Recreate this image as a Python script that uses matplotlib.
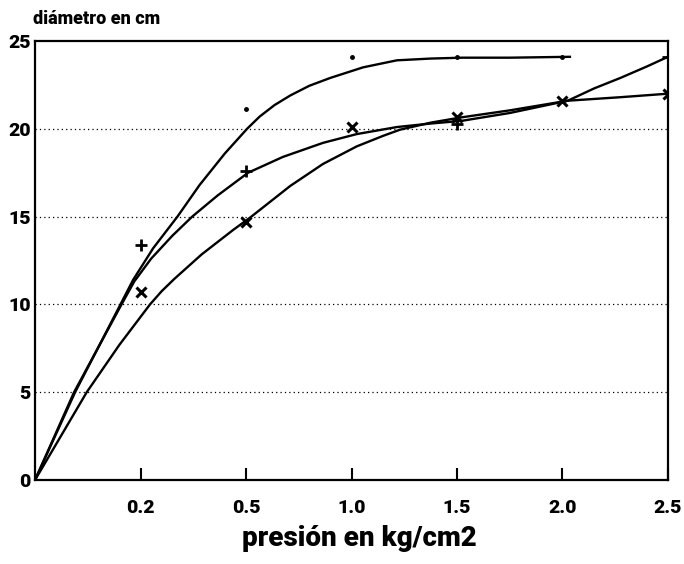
import numpy as np
from matplotlib import pyplot as plt

# categorical pressure axis (equally spaced labels)
presion = ['0', '0.2', '0.5', '1.0', '1.5', '2.0', '2.5']

# measured points (index on the pressure axis, diameter in cm)
pos_punto = [2, 3, 4, 5]
diam_punto = [21.1, 24.1, 24.1, 24.1]
pos_mas = [1, 2, 4, 6]
diam_mas = [13.4, 17.6, 20.3, 24.1]
pos_equis = [1, 2, 3, 4, 5, 6]
diam_equis = [10.7, 14.7, 20.1, 20.7, 21.6, 22.0]

# fitted curves
curva_a_x = [0, 0.38, 0.81, 0.93, 1.12, 1.35, 1.56, 1.8, 2.01, 2.13, 2.27, 2.42, 2.6, 2.8,
             3.11, 3.43, 3.75, 4.05, 4.5, 5.07]
curva_a_y = [0, 5.0, 10.0, 11.4, 13.2, 15.0, 16.8, 18.6, 20.0, 20.7, 21.35, 21.9, 22.45, 22.9,
             23.5, 23.9, 24.0, 24.05, 24.05, 24.1]
curva_b_x = [0, 0.37, 0.82, 0.94, 1.1, 1.3, 1.49, 1.73, 2.02, 2.35, 2.73, 3.05, 3.43, 3.75,
             4.04, 4.5, 5.05, 5.55, 6.0]
curva_b_y = [0, 5.0, 10.0, 11.3, 12.6, 13.9, 15.0, 16.2, 17.5, 18.4, 19.2, 19.7, 20.1, 20.3,
             20.45, 20.9, 21.6, 21.8, 22.0]
curva_c_x = [0, 0.49, 0.8, 1.09, 1.2, 1.32, 1.58, 1.88, 2.04, 2.23, 2.42, 2.73, 3.05, 3.3, 3.46,
             3.75, 4.04, 4.5, 5.05, 5.3, 5.55, 5.8, 6.0]
curva_c_y = [0, 5.0, 7.7, 10.0, 10.75, 11.45, 12.85, 14.25, 14.95, 15.85, 16.75, 18.0, 19.0, 19.6,
             19.95, 20.35, 20.65, 21.05, 21.6, 22.3, 22.9, 23.55, 24.1]

figure = plt.figure(figsize=(6.84, 5.64), dpi=100)
axis = figure.add_axes([0.0512, 0.1489, 0.9254, 0.7784])

fuente = ['Roboto', 'Liberation Sans', 'DejaVu Sans']
peso = 900

for yv in [5, 10, 15, 20]:
    axis.axhline(yv, color='black', linestyle=(0, (1, 2.5)), linewidth=0.9)

for cx, cy in [(curva_a_x, curva_a_y), (curva_b_x, curva_b_y), (curva_c_x, curva_c_y)]:
    axis.plot(cx, cy, color='black', linewidth=1.7, solid_joinstyle='round')

axis.plot(pos_punto, diam_punto, linestyle='none', marker='.', markersize=5, color='black')
axis.plot(pos_mas, diam_mas, linestyle='none', marker='+', markersize=9, markeredgewidth=2, color='black')
axis.plot(pos_equis, diam_equis, linestyle='none', marker='x', markersize=7, markeredgewidth=2.2, color='black')

axis.set_xlim(0, 6)
axis.set_ylim(0, 25)
axis.set_xticks(range(1, 7))
axis.set_xticklabels(presion[1:], family=fuente, fontweight=peso, fontsize=14)
axis.set_yticks([0, 5, 10, 15, 20, 25])
axis.set_yticklabels(['0', '5', '10', '15', '20', '25'], family=fuente, fontweight=peso, fontsize=14)
axis.tick_params(axis='x', direction='in', length=9, width=1.5, pad=14)
axis.tick_params(axis='y', length=0, pad=3)
for s in axis.spines.values():
    s.set_linewidth(1.6)

axis.set_xlabel('presión en kg/cm2', family=fuente, fontweight=peso, fontsize=20)
axis.xaxis.set_label_coords(0.513, -0.103)
figure.text(0.048, 0.958, 'diámetro en cm', family=fuente, fontweight=peso, fontsize=13)

figure.savefig('out.png', dpi=100)
